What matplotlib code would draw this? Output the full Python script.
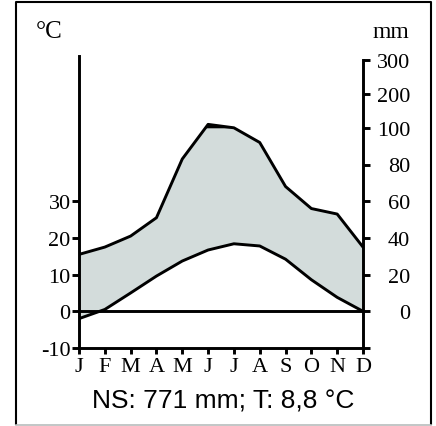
import numpy as np
import matplotlib
matplotlib.use("Agg")
import matplotlib.pyplot as plt
from matplotlib.lines import Line2D

# climate data
months = ["J", "F", "M", "A", "M", "J", "J", "A", "S", "O", "N", "D"]
temp = [-2.0, 0.5, 5.0, 9.6, 13.7, 16.7, 18.4, 17.8, 14.2, 8.6, 3.8, 0.0]
precip = [31, 35, 41, 51, 83, 110, 100, 92, 68, 56, 53, 35]
temp_ticks = [-10, 0, 10, 20, 30]
precip_ticks = [0, 20, 40, 60, 80, 100, 200, 300]
caption = "NS: 771 mm; T: 8,8 °C"

SERIF = "Liberation Serif"
SANS = "Liberation Sans"
FILL = "#d3dcdb"
LW = 2.1


def mm_to_units(p):
    # 20 mm = 10 °C below 100 mm, compressed above 100 mm
    p = np.asarray(p, dtype=float)
    return np.where(p <= 100, p / 2.0, 50 + (p - 100) * 0.093)


x = np.arange(len(months))
p_u = mm_to_units(precip)

W, H = 436, 427
fig = plt.figure(figsize=(W / 100, H / 100), dpi=100)
ax = fig.add_axes([79 / W, (H - 349) / H, 284 / W, 80 * 3.67 / H])
ax.set_xlim(0, 11)
ax.set_ylim(-10, 70)

# humid area between curves, and the >100 mm part in black
ax.fill_between(x, temp, p_u, color=FILL, lw=0, zorder=1)
ax.fill_between(x, 50, p_u, where=p_u > 50, interpolate=True, color="black", lw=0, zorder=2)
ax.plot(x, p_u, color="black", lw=LW, zorder=3)
ax.plot(x, temp, color="black", lw=LW, zorder=3)
ax.plot([0, 11], [0, 0], color="black", lw=LW, zorder=4)

for s in ["top", "right"]:
    ax.spines[s].set_visible(False)
ax.spines["left"].set_bounds(-10, 69.5)
ax.spines["left"].set_linewidth(LW)
ax.spines["bottom"].set_linewidth(LW)

ax.set_xticks(x, months)
ax.set_yticks(temp_ticks, [str(t) for t in temp_ticks])
ax.tick_params(axis="x", direction="out", length=4.5, width=LW, pad=2,
               labelsize=16)
ax.tick_params(axis="y", direction="out", length=5, width=LW, pad=1,
               labelsize=16)
for lab in ax.get_xticklabels() + ax.get_yticklabels():
    lab.set_fontfamily(SERIF)

# precipitation axis on the right
ax2 = ax.twinx()
ax2.set_ylim(ax.get_ylim())
for s in ["top", "left", "bottom"]:
    ax2.spines[s].set_visible(False)
ax2.spines["right"].set_bounds(-10, float(mm_to_units(300)))
ax2.spines["right"].set_linewidth(LW)
ax2.set_yticks([-10] + list(mm_to_units(precip_ticks)),
               [""] + [str(p) for p in precip_ticks])
ax2.tick_params(axis="y", direction="out", length=5, width=LW, pad=29,
                labelsize=16)
for lab in ax2.get_yticklabels():
    lab.set_fontfamily(SERIF)
    lab.set_horizontalalignment("right")

fig.text(49 / W, 1 - 32 / H, "°C", ha="center", va="center",
         fontsize=18, family=SERIF)
fig.text(409 / W, 1 - 32 / H, "mm", ha="right", va="center",
         fontsize=17, family=SERIF)
fig.text(223 / W, 1 - 402 / H, caption, ha="center", va="center",
         fontsize=19, family=SANS)

# frame around the whole diagram
fig.add_artist(Line2D([16 / W, 16 / W, 431 / W, 431 / W],
                      [1 - 425 / H, 1 - 3 / H, 1 - 3 / H, 1 - 425 / H],
                      transform=fig.transFigure, color="black", lw=1.5))
fig.add_artist(Line2D([16 / W, 431 / W], [1 - 425.5 / H, 1 - 425.5 / H],
                      transform=fig.transFigure, color="#b8bcbc", lw=1.2))

fig.savefig("out.png", dpi=100)
